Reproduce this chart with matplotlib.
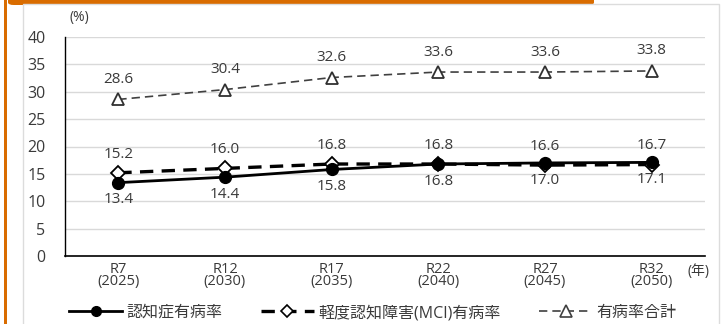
import matplotlib
matplotlib.use("Agg")
import matplotlib.pyplot as plt
from matplotlib.patches import FancyBboxPatch, Rectangle
from matplotlib.lines import Line2D

plt.rcParams['font.family'] = ['Open Sans', 'Noto Sans CJK JP', 'DejaVu Sans']

categories = ["R7\n(2025)", "R12\n(2030)", "R17\n(2035)", "R22\n(2040)", "R27\n(2045)", "R32\n(2050)"]
dementia = [13.4, 14.4, 15.8, 16.8, 17.0, 17.1]
mci = [15.2, 16.0, 16.8, 16.8, 16.6, 16.7]
total = [28.6, 30.4, 32.6, 33.6, 33.6, 33.8]
series_names = ["認知症有病率", "軽度認知障害(MCI)有病率", "有病率合計"]
y_ticks = [0, 5, 10, 15, 20, 25, 30, 35, 40]

TXT = "#3a3a3a"
W, H = 724, 324
fig = plt.figure(figsize=(W / 100, H / 100), dpi=100)
fig.patch.set_facecolor("white")

# frame decorations: orange rule on the left, orange tab on top, grey panel border
fig.patches.append(Rectangle((4 / W, 0), 2.5 / W, 1, transform=fig.transFigure,
                             facecolor="#d96c00", edgecolor="none", zorder=0))
fig.patches.append(FancyBboxPatch((8 / W, (H - 5) / H), 586 / W, 12 / H,
                                  boxstyle="round,pad=0,rounding_size=0.008",
                                  transform=fig.transFigure,
                                  facecolor="#d96c00", edgecolor="none", zorder=0))
fig.patches.append(Rectangle((23 / W, -0.05), 696 / W, (H - 4) / H + 0.05,
                             transform=fig.transFigure, facecolor="none",
                             edgecolor="#dcdcdc", linewidth=1.0, zorder=0))

ax = fig.add_axes([65 / W, (H - 256) / H, 640 / W, 219 / H])
x = list(range(len(categories)))

total_style = dict(linestyle=(0, (5, 3)), color="#404040", linewidth=1.2)
mci_style = dict(linestyle=(0, (4, 2.5)), color="black", linewidth=2.4)
dem_style = dict(linestyle="-", color="black", linewidth=2.0)

ax.plot(x, total, **total_style, marker="^", markersize=8.5, markerfacecolor="white",
        markeredgecolor="#303030", markeredgewidth=1.3, zorder=3)
ax.plot(x, mci, **mci_style, marker="D", markersize=7, markerfacecolor="white",
        markeredgecolor="black", markeredgewidth=1.3, zorder=4)
ax.plot(x, dementia, **dem_style, marker="o", markersize=8.5, markerfacecolor="black",
        markeredgecolor="black", zorder=5)

lab_kw = dict(ha="center", fontsize=11, color=TXT)
for xi, v in zip(x, total):
    ax.annotate(f"{v:.1f}", (xi, v), xytext=(0, 9), textcoords="offset points",
                va="bottom", **lab_kw)
for xi, v in zip(x, mci):
    ax.annotate(f"{v:.1f}", (xi, v), xytext=(0, 8), textcoords="offset points",
                va="bottom", **lab_kw)
for xi, v in zip(x, dementia):
    ax.annotate(f"{v:.1f}", (xi, v), xytext=(0, -7), textcoords="offset points",
                va="top", **lab_kw)

ax.set_xlim(-0.5, len(categories) - 0.5)
ax.set_ylim(0, 40)
ax.set_yticks(y_ticks)
ax.set_yticklabels([str(t) for t in y_ticks], fontsize=11.5, color=TXT)
ax.set_xticks(x)
ax.set_xticklabels(categories, fontsize=10.5, color=TXT, linespacing=0.8)
ax.tick_params(axis="both", length=0)
ax.tick_params(axis="y", pad=14)
ax.tick_params(axis="x", pad=4)
ax.grid(axis="y", color="#d9d9d9", linewidth=1.0)
ax.set_axisbelow(True)
for s in ("top", "right"):
    ax.spines[s].set_visible(False)
ax.spines["left"].set_color("black")
ax.spines["left"].set_linewidth(1.0)
ax.spines["bottom"].set_color("black")
ax.spines["bottom"].set_linewidth(1.2)

fig.text(70 / W, 1 - 18 / H, "(%)", fontsize=10, color=TXT, va="center")
fig.text(687 / W, 1 - 272 / H, "(年)", fontsize=10, color=TXT, va="center")

handles = [
    Line2D([], [], **dem_style, marker="o", markersize=7, markerfacecolor="black"),
    Line2D([], [], **mci_style, marker="D", markersize=6, markerfacecolor="white",
           markeredgewidth=1.2),
    Line2D([], [], **total_style, marker="^", markersize=8, markerfacecolor="white",
           markeredgewidth=1.2),
]
fig.legend(handles, series_names, loc="center", bbox_to_anchor=(373 / W, 1 - 313 / H),
           ncol=3, frameon=False, fontsize=11.5, handlelength=3.3,
           columnspacing=2.4, handletextpad=0.3, labelcolor=TXT)

fig.savefig("out.png", dpi=100, facecolor="white")
